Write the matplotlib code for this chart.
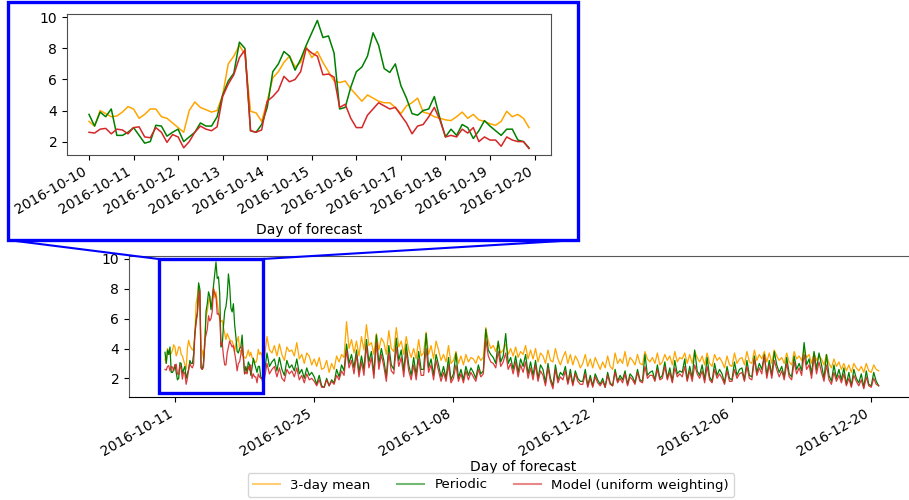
import matplotlib
matplotlib.use("Agg")
import matplotlib.pyplot as plt
import matplotlib.dates as mdates
from matplotlib.patches import Rectangle, ConnectionPatch
from matplotlib.lines import Line2D
import pandas as pd

# 3-hourly values, 2016-10-10 00:00 .. 2016-10-19 21:00 (shown in the zoom)
zoom_mean = [3.3, 3.0, 4.0, 3.8, 3.6, 3.65, 3.9, 4.25,
             4.1, 3.5, 3.75, 4.1, 4.1, 3.6, 3.5, 3.2,
             2.9, 2.6, 4.0, 4.55, 4.2, 4.05, 3.9, 4.0,
             5.0, 7.0, 7.5, 8.2, 7.6, 3.95, 3.85, 3.3,
             4.6, 6.1, 6.5, 7.1, 7.5, 6.8, 7.1, 8.1,
             7.4, 7.8, 7.1, 6.5, 5.9, 5.8, 5.9, 5.4,
             5.0, 4.6, 5.0, 4.8, 4.6, 4.5, 4.5, 4.2,
             3.8, 4.3, 4.5, 4.8, 3.9, 3.8, 3.6, 3.5,
             3.4, 3.35, 3.6, 3.9, 3.5, 3.75, 3.4, 3.3,
             3.15, 3.05, 3.3, 3.95, 3.6, 3.75, 3.5, 2.9]
zoom_periodic = [3.75, 3.0, 3.9, 3.6, 4.1, 2.4, 2.4, 2.6,
                 2.9, 2.4, 1.9, 2.0, 3.05, 3.0, 2.35, 2.6,
                 2.8, 2.0, 2.3, 2.6, 3.2, 3.0, 3.0, 3.6,
                 5.0, 5.9, 6.4, 8.4, 8.0, 2.7, 2.6, 3.1,
                 4.2, 6.5, 7.0, 7.8, 7.5, 6.6, 7.3, 8.2,
                 9.0, 9.8, 8.7, 8.8, 7.7, 4.1, 4.2, 5.5,
                 6.5, 6.8, 7.5, 9.0, 8.2, 6.7, 6.45, 7.0,
                 5.6, 4.8, 3.8, 3.7, 4.0, 4.1, 4.9, 3.5,
                 2.3, 2.8, 2.4, 3.1, 2.9, 2.2, 2.7, 3.35,
                 3.0, 2.7, 2.4, 2.8, 2.8, 2.1, 2.0, 1.6]
zoom_model = [2.6, 2.55, 2.8, 2.85, 2.5, 2.8, 2.75, 2.5,
              2.9, 2.95, 2.3, 2.25, 2.9, 2.6, 1.95, 2.45,
              2.3, 1.6, 2.0, 2.6, 3.0, 2.8, 2.7, 2.95,
              4.9, 5.7, 6.3, 7.4, 7.9, 2.7, 2.6, 2.75,
              4.6, 4.9, 5.3, 6.2, 5.85, 6.0, 6.5, 8.0,
              7.7, 7.5, 6.3, 6.35, 6.15, 4.2, 4.4, 3.5,
              2.9, 2.9, 3.7, 4.1, 4.5, 4.3, 4.1, 4.2,
              3.7, 3.2, 2.5, 3.0, 3.1, 3.6, 4.2, 3.4,
              2.3, 2.4, 2.3, 2.8, 2.55, 2.9, 2.0, 2.3,
              2.1, 2.1, 1.7, 2.3, 2.1, 2.0, 2.0, 1.55]

# 6-hourly values, 2016-10-20 00:00 .. 2016-12-20 18:00
rest_mean = [3.4, 4.8, 3.9, 3.7, 4.2, 3.5, 4.3, 3.6, 3.2, 4.1, 3.8, 3.9,
             3.5, 4.4, 3.3, 3.6, 3.0, 3.7, 3.5, 2.9, 3.3, 2.8, 3.4, 2.6,
             2.7, 3.2, 2.4, 3.0, 2.6, 3.5, 3.1, 3.6, 3.4, 5.8, 4.0, 4.6,
             3.7, 4.5, 3.5, 4.8, 3.9, 5.6, 4.2, 4.4, 3.6, 5.0, 3.9, 4.7,
             4.4, 3.6, 5.2, 4.0, 3.8, 5.4, 4.1, 4.5, 3.6, 4.8, 3.9, 3.4,
             4.0, 3.3, 4.6, 3.5, 3.7, 5.1, 3.6, 4.2, 3.3, 4.5, 3.9, 3.2,
             3.6, 3.1, 4.2, 3.0, 3.2, 3.8, 3.0, 3.5, 2.9, 3.6, 3.1, 3.4,
             3.3, 3.0, 3.5, 3.2, 3.4, 5.4, 4.5, 4.0, 4.2, 3.8, 4.4, 3.7,
             3.9, 4.3, 3.6, 4.0, 3.5, 4.1, 3.4, 3.8, 3.6, 4.2, 3.3, 3.9,
             3.3, 4.0, 3.1, 3.7, 3.5, 3.0, 3.9, 3.2, 3.1, 4.0, 3.3, 2.9,
             3.4, 3.8, 3.0, 3.6, 2.9, 3.5, 3.2, 2.7, 3.0, 3.6, 2.8, 3.3,
             2.7, 3.4, 3.0, 2.6, 3.1, 2.7, 3.5, 2.8, 2.6, 3.7, 3.0, 3.3,
             3.0, 3.8, 2.8, 3.4, 3.2, 2.9, 3.6, 3.0, 2.9, 3.8, 3.3, 3.1,
             3.4, 3.0, 3.7, 2.9, 3.1, 3.6, 3.2, 3.5, 2.9, 3.8, 3.1, 3.4,
             3.3, 3.7, 3.0, 3.6, 3.0, 3.8, 3.4, 3.1, 3.5, 2.9, 3.7, 3.0,
             2.8, 3.6, 3.2, 3.4, 3.1, 2.7, 3.5, 2.9, 2.8, 3.7, 3.0, 3.3,
             3.4, 2.9, 3.8, 3.1, 3.0, 3.9, 3.2, 3.6, 3.3, 3.8, 3.1, 3.7,
             3.0, 3.9, 3.5, 3.2, 3.4, 3.0, 3.7, 3.1, 2.9, 3.8, 3.3, 3.5,
             3.2, 3.9, 3.4, 3.6, 3.0, 3.7, 3.2, 3.5, 3.3, 2.9, 3.6, 3.0,
             2.7, 3.3, 2.8, 3.1, 2.6, 3.0, 2.5, 2.9, 2.4, 3.0, 2.7, 2.5,
             2.8, 2.4, 3.0, 2.5, 2.4, 2.9, 2.6, 2.5]
rest_periodic = [2.4, 3.7, 2.8, 3.1, 3.3, 2.5, 3.4, 2.6, 2.2, 3.2, 2.7, 2.9,
                 2.5, 3.3, 2.3, 2.6, 2.0, 2.7, 2.2, 2.4, 2.1, 1.6, 2.2, 1.5,
                 1.4, 2.0, 1.5, 1.9, 1.7, 2.6, 2.1, 2.9, 2.5, 4.3, 3.0, 3.6,
                 2.7, 3.9, 2.4, 3.5, 2.6, 4.6, 3.1, 3.8, 2.3, 4.9, 3.0, 4.0,
                 3.2, 2.1, 4.2, 2.9, 2.6, 4.7, 3.2, 3.9, 2.5, 4.3, 2.9, 2.2,
                 3.4, 2.2, 3.8, 2.6, 2.6, 5.0, 2.7, 3.3, 2.2, 3.6, 2.9, 2.1,
                 2.8, 2.0, 3.4, 1.9, 2.3, 3.7, 2.0, 2.6, 1.9, 2.8, 2.2, 2.7,
                 2.4, 2.0, 2.9, 2.3, 2.5, 5.3, 3.9, 3.6, 3.4, 3.0, 4.5, 3.1,
                 3.5, 5.0, 3.0, 3.4, 2.6, 3.5, 2.4, 3.3, 2.8, 3.6, 2.3, 3.1,
                 2.2, 3.2, 2.0, 2.9, 2.6, 1.7, 3.0, 2.0, 1.5, 2.9, 1.9, 2.4,
                 2.2, 2.8, 1.7, 2.6, 1.6, 2.5, 2.0, 1.8, 1.8, 2.6, 1.5, 2.2,
                 1.5, 2.3, 1.9, 1.6, 2.0, 1.4, 2.4, 1.7, 1.5, 2.6, 1.8, 2.2,
                 1.9, 2.5, 1.6, 2.3, 2.1, 1.7, 2.6, 1.9, 1.8, 3.6, 2.2, 2.4,
                 2.5, 1.9, 2.9, 2.0, 2.2, 3.1, 2.0, 2.7, 1.8, 3.2, 2.3, 2.5,
                 2.4, 3.3, 1.9, 2.8, 2.0, 3.9, 2.5, 2.2, 2.9, 1.9, 3.4, 2.1,
                 1.8, 3.0, 2.2, 2.6, 2.3, 1.7, 2.8, 2.0, 1.9, 3.1, 2.2, 2.6,
                 2.7, 1.9, 3.2, 2.2, 2.1, 3.5, 2.4, 3.0, 2.6, 3.6, 2.2, 3.2,
                 2.2, 3.8, 2.9, 2.4, 2.8, 2.1, 3.4, 2.3, 2.1, 3.5, 2.6, 3.0,
                 2.5, 4.4, 2.9, 3.3, 2.3, 3.8, 2.6, 3.7, 2.9, 2.0, 3.6, 2.2,
                 1.8, 2.9, 2.0, 2.6, 1.9, 2.7, 1.6, 2.4, 1.5, 2.6, 2.0, 1.7,
                 2.3, 1.4, 2.5, 1.6, 1.5, 2.4, 1.8, 1.5]
rest_model = [2.0, 3.0, 2.3, 2.6, 2.8, 2.1, 2.7, 2.0, 1.8, 2.6, 2.3, 2.5,
              2.1, 2.7, 1.9, 2.2, 1.7, 2.3, 1.9, 2.0, 1.8, 1.5, 1.9, 1.4,
              1.4, 1.9, 1.5, 1.8, 1.6, 2.2, 1.9, 2.5, 2.2, 3.9, 2.7, 3.2,
              2.3, 3.6, 2.1, 3.1, 2.2, 4.2, 2.7, 3.4, 2.0, 4.4, 2.6, 3.6,
              2.8, 1.8, 3.7, 2.5, 2.3, 4.1, 2.8, 3.4, 2.1, 3.8, 2.5, 1.9,
              2.9, 1.9, 3.3, 2.2, 2.2, 4.0, 2.4, 2.9, 1.9, 3.2, 2.5, 1.8,
              2.4, 1.8, 2.9, 1.7, 2.0, 2.9, 1.8, 2.3, 1.7, 2.5, 1.9, 2.4,
              2.1, 1.8, 2.6, 2.1, 2.3, 4.6, 3.5, 3.1, 3.0, 2.7, 3.8, 2.8,
              3.1, 3.7, 2.6, 3.0, 2.3, 3.1, 2.1, 2.9, 2.4, 3.1, 2.0, 2.7,
              1.9, 2.9, 1.8, 2.5, 2.2, 1.5, 2.7, 1.8, 1.3, 2.6, 1.7, 2.1,
              1.9, 2.5, 1.6, 2.3, 1.5, 2.3, 1.8, 1.6, 1.6, 2.3, 1.4, 2.0,
              1.4, 2.1, 1.7, 1.5, 1.8, 1.4, 2.2, 1.6, 1.5, 2.4, 1.7, 2.0,
              1.7, 2.3, 1.5, 2.1, 1.9, 1.6, 2.4, 1.8, 1.7, 2.8, 2.0, 2.2,
              2.2, 1.8, 2.6, 1.9, 2.0, 2.8, 1.9, 2.4, 1.7, 2.7, 2.1, 2.3,
              2.1, 2.8, 1.8, 2.5, 1.8, 2.9, 2.3, 2.0, 2.5, 1.7, 2.8, 1.9,
              1.7, 2.6, 2.0, 2.3, 2.0, 1.6, 2.5, 1.8, 1.8, 2.6, 2.0, 2.3,
              2.4, 1.8, 2.8, 2.0, 1.9, 3.3, 2.2, 2.7, 2.3, 3.5, 2.0, 2.9,
              2.0, 3.2, 2.6, 2.1, 2.5, 1.9, 3.0, 2.1, 1.9, 3.1, 2.3, 2.7,
              2.2, 3.6, 2.6, 2.9, 2.0, 3.4, 2.3, 3.1, 2.4, 1.8, 2.9, 1.9,
              1.6, 2.4, 1.8, 2.2, 1.7, 2.3, 1.5, 2.0, 1.4, 2.2, 1.8, 1.5,
              1.9, 1.3, 2.1, 1.5, 1.4, 2.0, 1.6, 1.5]

zoom_dates = pd.date_range("2016-10-10", periods=len(zoom_mean), freq="3h")
rest_dates = pd.date_range("2016-10-20", periods=len(rest_mean), freq="6h")
all_dates = zoom_dates.append(rest_dates)
all_mean = zoom_mean + rest_mean
all_periodic = zoom_periodic + rest_periodic
all_model = zoom_model + rest_model

main_ticks = pd.date_range("2016-10-11", periods=6, freq="14D")
zoom_ticks = pd.date_range("2016-10-10", periods=11, freq="D")

c_mean = "#ffa500"
c_per = "#008000"
c_mod = "#d62728"
labels = ["3-day mean", "Periodic", "Model (uniform weighting)"]

fig = plt.figure(figsize=(9.09, 5.0), dpi=100)

# main axes (right part runs past the figure edge, like the original crop)
ax = fig.add_axes([129 / 909, 1 - 397 / 500, 788 / 909, 141 / 500])
ax.plot(all_dates, all_mean, color=c_mean, lw=0.9)
ax.plot(all_dates, all_periodic, color=c_per, lw=0.9)
ax.plot(all_dates, all_model, color=c_mod, lw=0.9, alpha=0.9)
t0 = mdates.date2num(pd.Timestamp("2016-10-10"))
ax.set_xlim(t0 - 3.62, t0 + 75.6)
ax.set_ylim(0.75, 10.2)
ax.set_yticks([2, 4, 6, 8, 10])
ax.set_xticks(main_ticks)
ax.xaxis.set_major_formatter(mdates.DateFormatter("%Y-%m-%d"))
plt.setp(ax.get_xticklabels(), rotation=30, ha="right")
ax.set_xlabel("Day of forecast", labelpad=0.5)
for s in ["top", "left", "right"]:
    ax.spines[s].set_color("0.35")
ax.spines["bottom"].set_color("black")

# zoomed inset
ins = fig.add_axes([67 / 909, 1 - 155 / 500, 484 / 909, 141 / 500])
ins.plot(zoom_dates, zoom_mean, color=c_mean, lw=1.1)
ins.plot(zoom_dates, zoom_periodic, color=c_per, lw=1.1)
ins.plot(zoom_dates, zoom_model, color=c_mod, lw=1.1)
ins.set_yticks([2, 4, 6, 8, 10])
ins.set_xticks(zoom_ticks)
ins.xaxis.set_major_formatter(mdates.DateFormatter("%Y-%m-%d"))
plt.setp(ins.get_xticklabels(), rotation=30, ha="right")
ins.set_xlabel("Day of forecast")
for s in ins.spines.values():
    s.set_color("0.3")

# window marked on the main axes
x0, x1 = t0 - 0.65, t0 + 9.82
y0, y1 = 1.0, 10.0
ax.add_patch(Rectangle((x0, y0), x1 - x0, y1 - y0, fill=False,
                       edgecolor="blue", lw=2.4, zorder=5))

# blue frame round the inset
fl, fb, fr, ft = 8 / 909, 1 - 240 / 500, 578 / 909, 1 - 1.5 / 500
fig.add_artist(Rectangle((fl, fb), fr - fl, ft - fb, transform=fig.transFigure,
                         fill=False, edgecolor="blue", lw=2.4))

for fx, dx in [(fl, x0), (fr, x1)]:
    con = ConnectionPatch(xyA=(fx, fb), coordsA=fig.transFigure,
                          xyB=(dx, y1), coordsB=ax.transData,
                          color="blue", lw=1.5)
    fig.add_artist(con)

handles = [Line2D([], [], color=c, lw=1.5, alpha=0.55) for c in (c_mean, c_per, c_mod)]
fig.legend(handles, labels, loc="center", bbox_to_anchor=(491 / 909, 1 - 485 / 500),
           ncol=3, fontsize=9.6, frameon=True)

fig.savefig("out.png", dpi=100)
